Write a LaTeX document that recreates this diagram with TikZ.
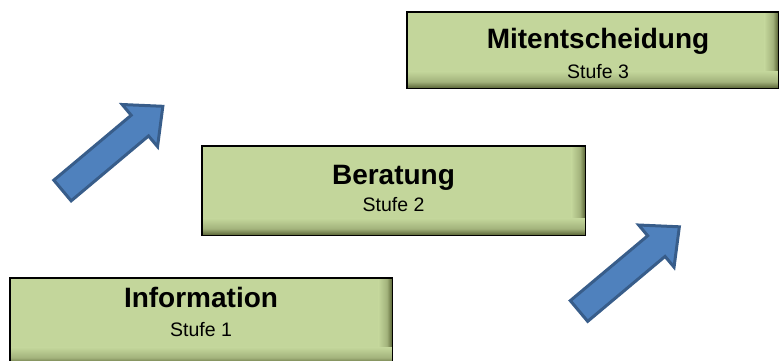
\documentclass[tikz,border=0pt]{standalone}
\usepackage{fontspec}
\setmainfont{Liberation Sans}
\definecolor{boxfill}{HTML}{C3D69B}
\definecolor{boxmid}{HTML}{A3B37C}
\definecolor{boxshade}{HTML}{566133}
\definecolor{arrfill}{HTML}{4F81BD}
\definecolor{arrline}{HTML}{385D8A}
\pgfdeclarehorizontalshading{rightglow}{100bp}{color(0bp)=(boxfill); color(25bp)=(boxfill); color(55bp)=(boxmid); color(75bp)=(boxshade); color(100bp)=(boxshade)}
\pgfdeclareverticalshading{bottomglow}{100bp}{color(0bp)=(boxshade); color(25bp)=(boxshade); color(45bp)=(boxmid); color(75bp)=(boxfill); color(100bp)=(boxfill)}
\tikzset{
  stage/.style={rectangle, fill=boxfill, inner sep=0pt, anchor=north west},
  stageborder/.style={draw=black, line width=1.4pt},
  title/.style={anchor=base, inner sep=0pt, font=\fontsize{28}{30}\selectfont\bfseries},
  level/.style={anchor=base, inner sep=0pt, font=\fontsize{19.5}{22}\selectfont},
  blockarrow/.style={fill=arrfill, draw=arrline, line width=3pt, line join=miter}
}
\begin{document}
\begin{tikzpicture}[x=1pt, y=-1pt]
\useasboundingbox (0,0) rectangle (779,360);
\clip (0,0) rectangle (779,360);

% boxes
\node[stage, minimum width=371pt, minimum height=76pt] (b3) at (407,12) {};
\node[stage, minimum width=383pt, minimum height=89pt] (b2) at (202,146) {};
\node[stage, minimum width=382pt, minimum height=86pt] (b1) at (10,278) {};
\foreach \b in {b1,b2,b3} {
  \shade[shading=rightglow] ([xshift=-14pt]\b.north east) rectangle (\b.south east);
  \shade[shading=bottomglow] (\b.south west) rectangle ([yshift=17pt]\b.south east);
  \draw[stageborder] (\b.north west) rectangle (\b.south east);
}

% texts
\node[title] (t3) at (598,48.3) {Mitentscheidung};
\node[level] (s3) at (598,78.3) {Stufe 3};
\node[title] (t2) at (393.5,184.3) {Beratung};
\node[level] (s2) at (393.5,211) {Stufe 2};
\node[title] (t1) at (201,307.3) {Information};
\node[level] (s1) at (201,336.7) {Stufe 1};

% block arrows
\begin{scope}[shift={(62.5,190.5)}, rotate=40]
  \draw[blockarrow] (0,-13.5) -- (101,-13.5) -- (101,-27.5) -- (131,0)
    -- (101,27.5) -- (101,13.5) -- (0,13.5) -- cycle;
\end{scope}
\begin{scope}[shift={(579,311)}, rotate=40]
  \draw[blockarrow] (0,-13.5) -- (101,-13.5) -- (101,-27.5) -- (131,0)
    -- (101,27.5) -- (101,13.5) -- (0,13.5) -- cycle;
\end{scope}
\end{tikzpicture}
\end{document}
